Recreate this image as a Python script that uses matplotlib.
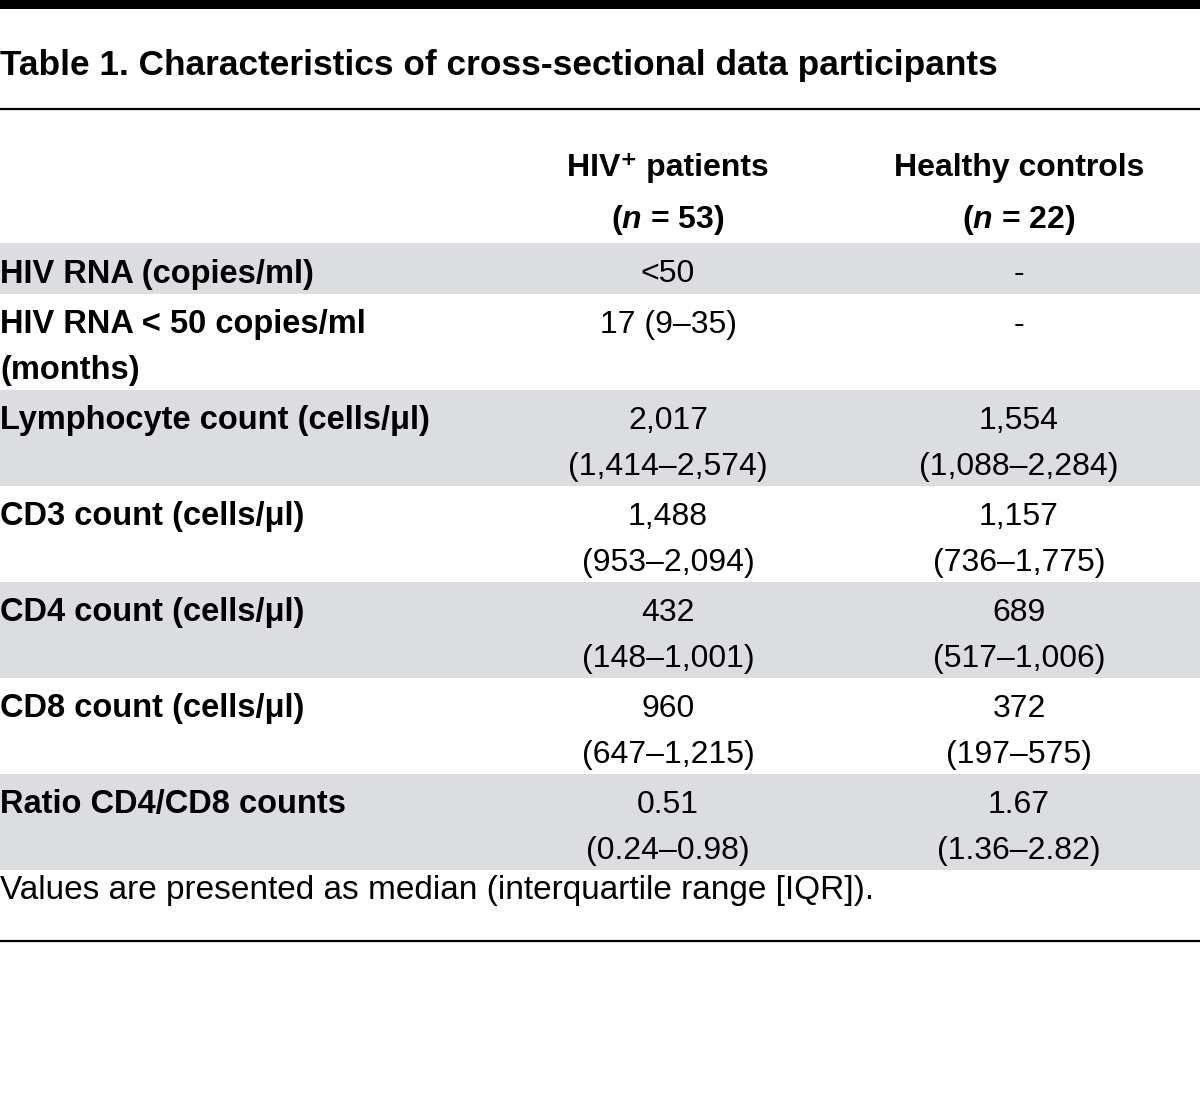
import matplotlib
matplotlib.use("Agg")
import matplotlib.pyplot as plt
from matplotlib.patches import Rectangle

FONT = ["Liberation Sans", "DejaVu Sans"]
plt.rcParams["font.family"] = FONT
plt.rcParams["mathtext.fontset"] = "custom"
plt.rcParams["mathtext.it"] = "Liberation Sans:italic:bold"
plt.rcParams["mathtext.rm"] = "Liberation Sans:bold"

title = "Table 1. Characteristics of cross-sectional data participants"
col_heads = ["HIV\u207a patients", "Healthy controls"]
col_ns = [r"($\mathit{n}$ = 53)", r"($\mathit{n}$ = 22)"]

row_labels = [
    ["HIV RNA (copies/ml)"],
    ["HIV RNA < 50 copies/ml", "(months)"],
    ["Lymphocyte count (cells/\u03bcl)"],
    ["CD3 count (cells/\u03bcl)"],
    ["CD4 count (cells/\u03bcl)"],
    ["CD8 count (cells/\u03bcl)"],
    ["Ratio CD4/CD8 counts"],
]
hiv_vals = [
    ["<50"],
    ["17 (9\u201335)"],
    ["2,017", "(1,414\u20132,574)"],
    ["1,488", "(953\u20132,094)"],
    ["432", "(148\u20131,001)"],
    ["960", "(647\u20131,215)"],
    ["0.51", "(0.24\u20130.98)"],
]
healthy_vals = [
    ["-"],
    ["-"],
    ["1,554", "(1,088\u20132,284)"],
    ["1,157", "(736\u20131,775)"],
    ["689", "(517\u20131,006)"],
    ["372", "(197\u2013575)"],
    ["1.67", "(1.36\u20132.82)"],
]
footnote = "Values are presented as median (interquartile range [IQR])."

fig = plt.figure(figsize=(12, 11.06), dpi=100)
ax = fig.add_axes([0, 0, 1, 1])
ax.set_xlim(0, 1200)
ax.set_ylim(1106, 0)
ax.axis("off")

fs = 23
gray = "#dcdde0"

# top bar and rules
ax.add_patch(Rectangle((0, 0), 1200, 9, color="black", lw=0))
ax.plot([0, 1200], [109, 109], color="black", lw=1.6)
ax.plot([0, 1200], [941, 941], color="black", lw=1.6)

ax.text(0, 65, title, fontsize=25.4, fontweight="bold", ha="left", va="center")

col_x = [668, 1019]
for x, h, n in zip(col_x, col_heads, col_ns):
    ax.text(x, 168, h, fontsize=fs, fontweight="bold", ha="center", va="center")
    ax.text(x, 220, n, fontsize=fs, fontweight="bold", ha="center", va="center")

band_tops = [243, 294, 390, 486, 582, 678, 774]
band_bots = [294, 390, 486, 582, 678, 774, 870]
line_gap = 46
for i, (top, bot) in enumerate(zip(band_tops, band_bots)):
    if i % 2 == 0:
        ax.add_patch(Rectangle((0, top), 1200, bot - top, color=gray, lw=0))
    for j, s in enumerate(row_labels[i]):
        ax.text(0, top + 31 + j * line_gap, s, fontsize=23.5, fontweight="bold",
                ha="left", va="center")
    for x, vals in zip(col_x, [hiv_vals[i], healthy_vals[i]]):
        for j, s in enumerate(vals):
            ax.text(x, top + 31 + j * line_gap, s, fontsize=fs,
                    ha="center", va="center")

ax.text(0, 891, footnote, fontsize=24, ha="left", va="center")

fig.savefig("out.png", dpi=100)
